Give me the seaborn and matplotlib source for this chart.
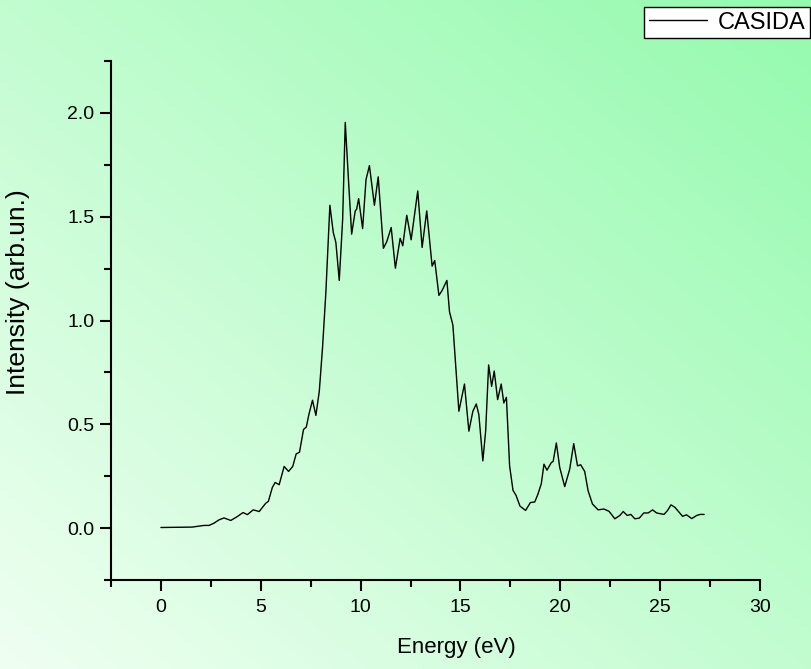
import numpy as np
import pandas as pd
import matplotlib
matplotlib.use("Agg")
import matplotlib.pyplot as plt
from matplotlib.ticker import MultipleLocator
import seaborn as sns

# Absorption spectrum (CASIDA linear response)
energy = [0.0, 0.8, 1.57, 2.16, 2.41, 2.66, 2.91, 3.16, 3.50, 3.83, 4.11, 4.33,
          4.62, 4.92, 5.25, 5.38, 5.58, 5.72, 5.92, 6.17, 6.39, 6.60, 6.77, 6.94,
          7.14, 7.28, 7.41, 7.59, 7.76, 7.93, 8.09, 8.26, 8.46, 8.63, 8.76, 8.93,
          9.10, 9.23, 9.40, 9.55, 9.73, 9.80, 9.90, 10.10, 10.27, 10.44, 10.69,
          10.88, 11.14, 11.31, 11.53, 11.74, 11.98, 12.11, 12.31, 12.53, 12.86,
          13.08, 13.31, 13.58, 13.71, 13.92, 14.08, 14.32, 14.45, 14.62, 14.92,
          15.20, 15.42, 15.62, 15.79, 15.92, 16.12, 16.26, 16.41, 16.56, 16.69,
          16.86, 17.04, 17.17, 17.30, 17.46, 17.63, 17.78, 17.98, 18.26, 18.50,
          18.72, 18.88, 19.05, 19.18, 19.33, 19.55, 19.64, 19.80, 19.97, 20.22,
          20.47, 20.67, 20.86, 21.02, 21.22, 21.39, 21.61, 21.89, 22.18, 22.44,
          22.73, 22.98, 23.15, 23.35, 23.53, 23.73, 23.95, 24.18, 24.40, 24.62,
          24.82, 24.99, 25.19, 25.37, 25.54, 25.74, 25.91, 26.12, 26.32, 26.58,
          26.83, 27.00, 27.20]
intensity = [0.003, 0.004, 0.005, 0.013, 0.013, 0.024, 0.040, 0.049, 0.037, 0.056,
             0.075, 0.065, 0.088, 0.080, 0.120, 0.129, 0.196, 0.220, 0.209, 0.297,
             0.273, 0.297, 0.357, 0.366, 0.475, 0.487, 0.548, 0.616, 0.543, 0.659,
             0.866, 1.137, 1.555, 1.424, 1.376, 1.193, 1.488, 1.954, 1.663, 1.416,
             1.528, 1.536, 1.587, 1.443, 1.679, 1.746, 1.555, 1.692, 1.348, 1.380,
             1.448, 1.252, 1.396, 1.360, 1.507, 1.389, 1.624, 1.352, 1.528, 1.262,
             1.289, 1.121, 1.145, 1.193, 1.042, 0.978, 0.563, 0.694, 0.467, 0.563,
             0.598, 0.547, 0.324, 0.467, 0.786, 0.683, 0.757, 0.619, 0.694, 0.603,
             0.630, 0.300, 0.182, 0.158, 0.106, 0.085, 0.123, 0.126, 0.164, 0.215,
             0.308, 0.279, 0.316, 0.321, 0.410, 0.292, 0.200, 0.284, 0.407, 0.300,
             0.305, 0.273, 0.180, 0.116, 0.088, 0.092, 0.081, 0.045, 0.061, 0.080,
             0.061, 0.066, 0.045, 0.048, 0.073, 0.073, 0.088, 0.073, 0.070, 0.066,
             0.085, 0.112, 0.100, 0.081, 0.057, 0.064, 0.046, 0.061, 0.066, 0.066]
x_ticks = [0, 5, 10, 15, 20, 25, 30]
y_ticks = [0.0, 0.5, 1.0, 1.5, 2.0]

df = pd.DataFrame({"Energy (eV)": energy, "Intensity (arb.un.)": intensity})

sns.set_style("ticks")
plt.rcParams["font.family"] = ["Liberation Sans", "DejaVu Sans"]
plt.rcParams["text.color"] = "black"
plt.rcParams["axes.labelcolor"] = "black"
plt.rcParams["xtick.color"] = "black"
plt.rcParams["ytick.color"] = "black"

fig = plt.figure(figsize=(8.12, 6.69), dpi=100)

# diagonal green gradient behind everything
bg = fig.add_axes([0, 0, 1, 1], zorder=-10)
u, v = np.meshgrid(np.linspace(0, 1, 400), np.linspace(1, 0, 400))
t = (u + v) / 2.0
c0 = np.array([0.94, 1.00, 0.95])
c1 = np.array([0.58, 0.98, 0.68])
img = c0[None, None, :] * (1 - t[..., None]) + c1[None, None, :] * t[..., None]
bg.imshow(img, aspect="auto", extent=[0, 1, 0, 1], interpolation="bicubic")
bg.set_axis_off()

ax = fig.add_axes([0.1367, 0.133, 0.7993, 0.7758])
ax.patch.set_alpha(0)
sns.lineplot(data=df, x="Energy (eV)", y="Intensity (arb.un.)", ax=ax,
             color="black", linewidth=1.0, label="CASIDA", legend=False)

ax.set_xlim(-2.5, 30)
ax.set_ylim(-0.25, 2.25)
ax.set_xticks(x_ticks)
ax.set_yticks(y_ticks)
ax.set_yticklabels([f"{v:.1f}" for v in y_ticks])
ax.xaxis.set_minor_locator(MultipleLocator(2.5))
ax.yaxis.set_minor_locator(MultipleLocator(0.25))
ax.tick_params(which="major", direction="out", length=8, width=1.5,
               labelsize=14, colors="black", pad=4)
ax.tick_params(which="minor", direction="out", length=5, width=1.5)
ax.tick_params(axis="x", which="major", pad=6)
for side in ("top", "right"):
    ax.spines[side].set_visible(False)
for side in ("left", "bottom"):
    ax.spines[side].set_linewidth(1.5)
    ax.spines[side].set_color("black")
ax.set_xlabel("Energy (eV)", fontsize=16)
ax.set_ylabel("Intensity (arb.un.)", fontsize=19)
ax.xaxis.set_label_coords(0.532, -0.11)
ax.yaxis.set_label_coords(-0.125, 0.555)

leg = fig.legend(handles=ax.get_lines(), labels=["CASIDA"],
                 loc="upper right", bbox_to_anchor=(810 / 812, 1 - 7 / 669),
                 fontsize=17, frameon=True, fancybox=False, framealpha=1,
                 edgecolor="black", facecolor="white", handlelength=2.45,
                 borderpad=0.2, borderaxespad=0, handletextpad=0.45)
leg.get_frame().set_linewidth(1.0)

fig.savefig("out.png", dpi=100)
